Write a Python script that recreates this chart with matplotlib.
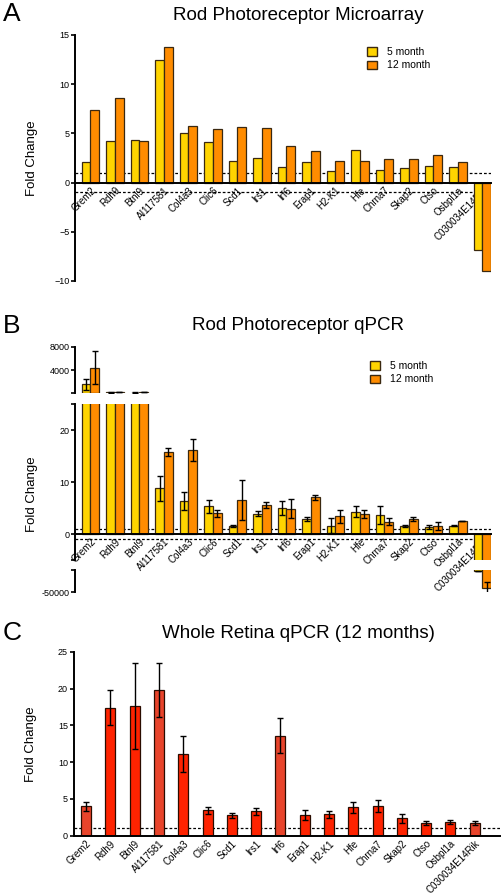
import numpy as np
import matplotlib
matplotlib.use("Agg")
import matplotlib.pyplot as plt
from matplotlib.patches import Patch

plt.rcParams['font.family'] = ['Liberation Sans', 'DejaVu Sans']

genes = ['Grem2', 'Rdh9', 'Btnl9', 'AI117581', 'Col4a3', 'Clic6', 'Scd1', 'Irs1', 'Irf6',
         'Erap1', 'H2-K1', 'Hfe', 'Chrna7', 'Skap2', 'Ctso', 'Osbpl1a', 'C030034E14Rik']

# A: microarray fold change
a_5mo = [2.1, 4.2, 4.3, 12.5, 5.0, 4.1, 2.2, 2.5, 1.6, 2.1, 1.2, 3.3, 1.3, 1.5, 1.7, 1.6, -6.9]
a_12mo = [7.4, 8.6, 4.2, 13.8, 5.8, 5.4, 5.6, 5.5, 3.7, 3.2, 2.2, 2.2, 2.4, 2.4, 2.8, 2.1, -9.0]

# B: rod photoreceptor qPCR (mean, sem)
b_5mo = [1550, 150, 120, 8.8, 6.3, 5.3, 1.5, 3.9, 5.0, 2.9, 1.6, 4.3, 3.6, 1.5, 1.3, 1.6, -40300]
b_5mo_err = [950, 40, 40, 2.4, 1.7, 1.3, 0.15, 0.5, 1.3, 0.35, 1.4, 1.1, 1.7, 0.15, 0.4, 0.1, 0]
b_12mo = [4400, 250, 220, 15.8, 16.1, 4.0, 6.5, 5.6, 4.9, 7.05, 3.4, 3.85, 2.4, 2.9, 1.5, 2.5, -48400]
b_12mo_err = [2850, 60, 60, 0.8, 2.1, 0.7, 3.8, 0.6, 1.8, 0.45, 1.3, 0.7, 0.65, 0.4, 0.75, 0.05, 3000]

# C: whole retina qPCR, 12 months
c_12mo = [4.0, 17.4, 17.6, 19.8, 11.1, 3.45, 2.8, 3.3, 13.6, 2.8, 2.9, 3.85, 4.05, 2.35, 1.75, 1.9, 1.7]
c_err = [0.6, 2.4, 5.8, 3.7, 2.4, 0.5, 0.35, 0.5, 2.4, 0.7, 0.5, 0.7, 0.8, 0.6, 0.25, 0.3, 0.3]

YELLOW = '#FFD400'
ORANGE = '#FF8C00'
EDGE = '#3a2810'
RED = '#FF2300'
RED_LT = '#E8442B'
c_colors = [RED_LT, RED, RED, RED_LT, RED, RED, RED, RED, RED_LT,
            RED, RED, RED, RED, RED, RED, RED, RED_LT]

W, H = 503, 893
fig = plt.figure(figsize=(W / 100, H / 100), dpi=100)


def px_axes(x0, x1, ytop, ybot):
    return fig.add_axes([x0 / W, 1 - ybot / H, (x1 - x0) / W, (ybot - ytop) / H])


x = np.arange(len(genes))
bw = 0.36
SPINE = 1.4
TICKFS = 6.5


def style(ax, xlabels=True):
    for s in ['top', 'right']:
        ax.spines[s].set_visible(False)
    ax.spines['left'].set_linewidth(SPINE)
    ax.spines['bottom'].set_linewidth(SPINE)
    ax.tick_params(axis='y', labelsize=TICKFS, length=3, width=1.2, pad=1)
    ax.tick_params(axis='x', length=0, pad=2, labelsize=7)
    ax.set_xticks(x)
    if xlabels:
        ax.set_xticklabels(genes)
        plt.setp(ax.get_xticklabels(), rotation=45, ha='right', rotation_mode='anchor')
    else:
        ax.set_xticklabels([])


def dashes(ax, levels, x1):
    for lv in levels:
        ax.plot([ax.get_xlim()[0], x1], [lv, lv], color='black', lw=0.9,
                dashes=(2.2, 1.6), zorder=1)


ekw = dict(ecolor='black', elinewidth=1.0, capsize=2.2, capthick=1.0)
legend_handles = [Patch(facecolor=YELLOW, edgecolor=EDGE, label='5 month'),
                  Patch(facecolor=ORANGE, edgecolor=EDGE, label='12 month')]

# ---------------- Panel A ----------------
axA = px_axes(75, 491, 35, 281)
axA.bar(x - bw / 2, a_5mo, bw, color=YELLOW, edgecolor=EDGE, lw=0.9, zorder=2)
axA.bar(x + bw / 2, a_12mo, bw, color=ORANGE, edgecolor=EDGE, lw=0.9, zorder=2)
axA.set_xlim(-0.63, 16.35)
axA.set_ylim(-10, 15)
axA.spines['bottom'].set_position(('data', 0))
axA.spines['bottom'].set_zorder(3)
axA.set_yticks([-10, -5, 0, 5, 10, 15])
style(axA)
dashes(axA, [1, -1], 16.35)
axA.set_ylabel('Fold Change', fontsize=9.5)
axA.yaxis.set_label_coords(-0.09, 0.5)
axA.legend(handles=legend_handles,
           loc='upper left', bbox_to_anchor=((358 - 75) / 416, 1 - (38 - 35) / 246),
           frameon=False, fontsize=7.5, handlelength=0.9, handleheight=0.9,
           handletextpad=1.0, labelspacing=0.3)
fig.text(3 / W, 1 - 14 / H, 'A', fontsize=19, va='center', ha='left')
fig.text(298 / W, 1 - 15 / H, 'Rod Photoreceptor Microarray', fontsize=13.5, va='center', ha='center')

# ---------------- Panel B (broken axis) ----------------
b5 = np.array(b_5mo)
b12 = np.array(b_12mo)
b5e = np.array(b_5mo_err)
b12e = np.array(b_12mo_err)
segs = [(347, 393.3, (0, 8000), [0, 4000, 8000], ['', '4000', '8000']),
        (404, 560, (-5, 25), [-5, 0, 10, 20, 25], ['', '0', '10', '20', '']),
        (570, 592, (-50000, -40000), [-50000, -40000], ['-50000', ''])]
axB = []
for k, (ytop, ybot, ylim, ticks, labels) in enumerate(segs):
    ax = px_axes(75, 491, ytop, ybot)
    for vals, errs, off, col in [(b5, b5e, -bw / 2, YELLOW), (b12, b12e, bw / 2, ORANGE)]:
        if k == 0:
            m = vals > 25
        elif k == 2:
            m = vals < -5
        else:
            m = np.ones(len(vals), bool)
        ax.bar(x[m] + off, vals[m], bw, color=col, edgecolor=EDGE, lw=0.9, zorder=2)
        ax.errorbar(x[m] + off, vals[m], yerr=errs[m], fmt='none', zorder=3, **ekw)
    ax.set_xlim(-0.63, 16.35)
    ax.set_ylim(*ylim)
    if k == 1:
        ax.spines['bottom'].set_position(('data', 0))
        ax.spines['bottom'].set_zorder(4)
    style(ax, xlabels=(k == 1))
    ax.set_yticks(ticks)
    ax.set_yticklabels(labels)
    ax.patch.set_visible(False)
    if k != 1:
        ax.spines['bottom'].set_visible(False)
    axB.append(ax)

dashes(axB[1], [1, -1], 16.35)
axB[1].set_ylabel('Fold Change', fontsize=9.5)
axB[1].yaxis.set_label_coords(-0.09, 0.42)
axB[0].legend(handles=legend_handles,
              loc='upper left', bbox_to_anchor=((361 - 75) / 416, 1 - (352 - 347) / 46.3),
              frameon=False, fontsize=7.5, handlelength=0.9, handleheight=0.9,
              handletextpad=1.0, labelspacing=0.3)
fig.text(3 / W, 1 - 326 / H, 'B', fontsize=19, va='center', ha='left')
fig.text(298 / W, 1 - 326 / H, 'Rod Photoreceptor qPCR', fontsize=13.5, va='center', ha='center')

# ---------------- Panel C ----------------
axC = px_axes(73.5, 500, 651.7, 835.7)
axC.bar(x, c_12mo, 0.41, color=c_colors, edgecolor='#2a0c00', lw=0.9, zorder=2)
axC.errorbar(x, c_12mo, yerr=c_err, fmt='none', zorder=3, **ekw)
axC.set_xlim(-0.52, 17.04)
axC.set_ylim(0, 25)
axC.set_yticks([0, 5, 10, 15, 20, 25])
style(axC)
dashes(axC, [1], 17.04)
axC.set_ylabel('Fold Change', fontsize=9.5)
axC.yaxis.set_label_coords(-0.085, 0.5)
fig.text(3 / W, 1 - 633 / H, 'C', fontsize=19, va='center', ha='left')
fig.text(298 / W, 1 - 633 / H, 'Whole Retina qPCR (12 months)', fontsize=13.5, va='center', ha='center')

fig.savefig('out.png', dpi=100)
